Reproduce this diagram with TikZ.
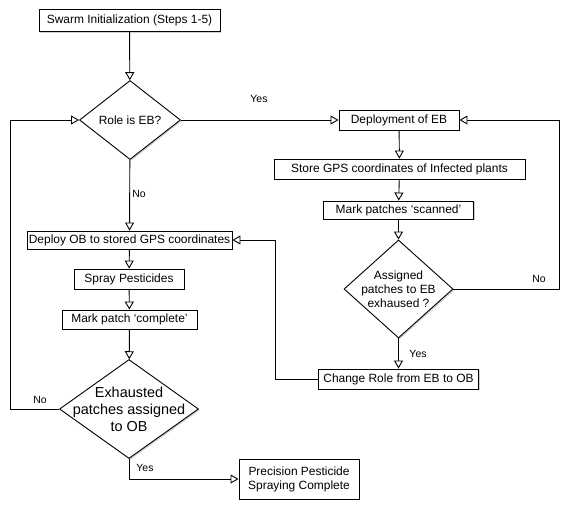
\documentclass[tikz,border=0pt]{standalone}
\usepackage{fontspec}
\setmainfont{Liberation Sans}
\usetikzlibrary{arrows.meta,shapes.geometric,shadows}
\tikzset{
  base/.style={draw, fill=white, line width=0.9bp, inner sep=0pt, align=center,
    font=\fontsize{12}{14}\selectfont,
    drop shadow={shadow xshift=1.3bp, shadow yshift=-1.3bp, fill=black, opacity=0.18}},
  box/.style={base, rectangle},
  dia/.style={base, diamond},
  dtext/.style={inner sep=0pt, align=center, font=\fontsize{12}{14}\selectfont},
  arr/.style={line width=0.9bp, -{Triangle[fill=white, length=8bp, width=9bp]}},
  lbl/.style={font=\fontsize{10.5}{12}\selectfont, inner sep=0pt}
}
\begin{document}
\begin{tikzpicture}[x=1bp,y=-1bp]
\fill[white] (0,0) rectangle (581,511);
\useasboundingbox (0,0) rectangle (581,511);

% left column
\node[box, minimum width=181bp, minimum height=22bp] (init) at (129.5,20.5) {Swarm Initialization (Steps 1-5)};
\node[dia, minimum width=101bp, minimum height=79bp] (role) at (130,120) {};
\node[dtext] (rolet) at (role) {Role is EB?};
\node[box, minimum width=205bp, minimum height=18bp] (deob) at (129.5,240) {Deploy OB to stored GPS coordinates};
\node[box, minimum width=110bp, minimum height=20bp] (spray) at (129,279) {Spray Pesticides};
\node[box, minimum width=135bp, minimum height=19bp] (markc) at (129.5,319.5) {Mark patch ‘complete’};
\node[dia, minimum width=139bp, minimum height=99bp] (exh) at (129,409) {};
\node[dtext, font=\fontsize{14.5}{17}\selectfont] (exht) at (exh) {Exhausted\\patches assigned\\to OB};
\node[box, minimum width=120bp, minimum height=40bp] (prec) at (299,479) {Precision Pesticide\\Spraying Complete};

% right column
\node[box, minimum width=120bp, minimum height=20bp] (deb) at (399,120) {Deployment of EB};
\node[box, minimum width=251bp, minimum height=20bp] (store) at (399.5,169) {Store GPS coordinates of Infected plants};
\node[box, minimum width=150bp, minimum height=18bp] (mark) at (398.5,210) {Mark patches ‘scanned’};
\node[dia, minimum width=109bp, minimum height=98bp] (asg) at (398.5,289) {};
\node[dtext] (asgt) at (asg) {Assigned\\patches to EB\\exhaused ?};
\node[box, minimum width=160bp, minimum height=20bp] (chg) at (398.5,379) {Change Role from EB to OB};

\coordinate (rc) at (559,289);
\coordinate (lc) at (275,240);
\coordinate (xc) at (10,409);

% connectors
\draw[arr] (init) -- (role);
\draw[arr] (role) -- (deb);
\draw[arr] (role) -- (deob);
\draw[arr] (deb) -- (store);
\draw[arr] (store) -- (mark);
\draw[arr] (mark) -- (asg);
\draw[arr] (asg.east) -- (rc) |- (deb.east);
\draw[arr] (asg) -- (chg);
\draw[arr] (chg.west) -| (lc) -- (deob.east);
\draw[arr] (deob) -- (spray);
\draw[arr] (spray) -- (markc);
\draw[arr] (markc) -- (exh);
\draw[arr] (exh.west) -- (xc) |- (role.west);
\draw[arr] (exh.south) |- (prec.west);

% labels
\node[lbl] (l1) at (259,99) {Yes};
\node[lbl] (l2) at (139,194) {No};
\node[lbl] (l3) at (539,279) {No};
\node[lbl] (l4) at (418,354) {Yes};
\node[lbl] (l5) at (40,400) {No};
\node[lbl] (l6) at (145,468) {Yes};
\end{tikzpicture}
\end{document}
